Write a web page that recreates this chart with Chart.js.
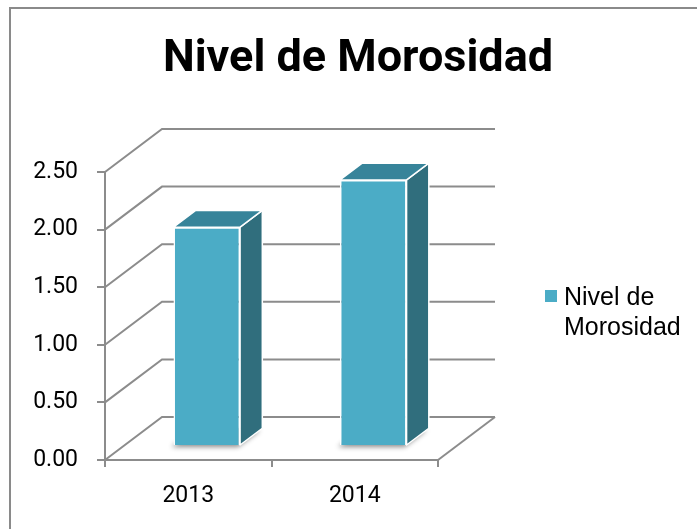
<!DOCTYPE html>
<html>
<head>
<meta charset="utf-8">
<script src="https://cdn.jsdelivr.net/npm/chart.js@4/dist/chart.umd.min.js"></script>
<style>
  html, body { margin: 0; padding: 0; background: #fff; }
  #wrap { width: 697px; height: 529px; }
</style>
</head>
<body>
<div id="wrap"><canvas id="graph_ID" width="697" height="529"></canvas></div>
<script>
// datos del grafico
var titulo = 'Nivel de Morosidad';
var anios = ['2013', '2014'];
var morosidad = [1.90, 2.31];
var leyenda = ['Nivel de', 'Morosidad'];
var yMin = 0, yMax = 2.5, yPaso = 0.5;

// colores de la barra 3D
var colFrente = '#4BACC6';
var colTecho = '#37849A';
var colLado = '#306E7D';
var colGrid = '#8c8c8c';

// profundidad del "cubo" (oblicuo)
var DX = 57, DY = -43;
var barDesde = 0.325, barFondo = 0.39;

var plugin3d = {
  id: 'tresD',
  beforeDatasetsDraw: function (chart) {
    var ctx = chart.ctx, a = chart.chartArea, ys = chart.scales.y;
    ctx.save();
    ctx.strokeStyle = colGrid;
    ctx.lineWidth = 2;
    ys.ticks.forEach(function (t) {
      var yf = ys.getPixelForValue(t.value);
      ctx.beginPath();
      ctx.moveTo(a.left, yf);
      ctx.lineTo(a.left + DX, yf + DY);
      ctx.lineTo(a.right + DX, yf + DY);
      ctx.stroke();
    });
    // borde derecho del piso
    ctx.beginPath();
    ctx.moveTo(a.right, a.bottom);
    ctx.lineTo(a.right + DX, a.bottom + DY);
    ctx.stroke();

    // sombra en la base de las barras
    var ox = DX * barDesde, oy = DY * barDesde;
    var dx = DX * barFondo, dy = DY * barFondo;
    chart.getDatasetMeta(0).data.forEach(function (b) {
      var x0 = b.x - b.width / 2 + ox, x1 = b.x + b.width / 2 + ox, yb = b.base + oy;
      ctx.save();
      ctx.shadowColor = 'rgba(0,0,0,0.45)';
      ctx.shadowBlur = 5;
      ctx.shadowOffsetX = -2;
      ctx.shadowOffsetY = 2;
      ctx.fillStyle = 'rgba(200,200,200,1)';
      ctx.beginPath();
      ctx.moveTo(x0, yb);
      ctx.lineTo(x1, yb);
      ctx.lineTo(x1 + dx, yb + dy);
      ctx.lineTo(x0 + dx, yb + dy);
      ctx.closePath();
      ctx.fill();
      ctx.restore();
    });
    ctx.restore();

    // las caras frontales se dibujan desplazadas hacia el fondo
    ctx.save();
    ctx.translate(ox, oy);
  },
  afterDatasetsDraw: function (chart) {
    var ctx = chart.ctx;
    ctx.restore();
    var ox = DX * barDesde, oy = DY * barDesde;
    var dx = DX * barFondo, dy = DY * barFondo;
    ctx.save();
    ctx.strokeStyle = '#ffffff';
    ctx.lineWidth = 1.5;
    ctx.lineJoin = 'round';
    chart.getDatasetMeta(0).data.forEach(function (b) {
      var x0 = b.x - b.width / 2 + ox, x1 = b.x + b.width / 2 + ox;
      var yt = b.y + oy, yb = b.base + oy;
      // lado
      ctx.fillStyle = colLado;
      ctx.beginPath();
      ctx.moveTo(x1, yt);
      ctx.lineTo(x1 + dx, yt + dy);
      ctx.lineTo(x1 + dx, yb + dy);
      ctx.lineTo(x1, yb);
      ctx.closePath();
      ctx.fill();
      ctx.stroke();
      // techo
      ctx.fillStyle = colTecho;
      ctx.beginPath();
      ctx.moveTo(x0, yt);
      ctx.lineTo(x0 + dx, yt + dy);
      ctx.lineTo(x1 + dx, yt + dy);
      ctx.lineTo(x1, yt);
      ctx.closePath();
      ctx.fill();
      ctx.stroke();
    });
    ctx.restore();
  },
  afterDraw: function (chart) {
    var ctx = chart.ctx;
    ctx.save();
    // leyenda
    ctx.fillStyle = chart.data.datasets[0].backgroundColor;
    ctx.fillRect(545, 290, 12, 12);
    ctx.fillStyle = '#000';
    ctx.font = '25px "Liberation Sans", Arial, sans-serif';
    ctx.textBaseline = 'alphabetic';
    ctx.textAlign = 'left';
    leyenda.forEach(function (l, i) {
      ctx.fillText(l, 564, 305 + i * 30);
    });
    // marco del grafico
    ctx.strokeStyle = '#8a8a8a';
    ctx.lineWidth = 2;
    ctx.strokeRect(10, 8, 720, 560);
    ctx.restore();
  }
};

var mychart = document.getElementById('graph_ID').getContext('2d');
var graphique = new Chart(mychart, {
  type: 'bar',
  data: {
    labels: anios,
    datasets: [{
      label: leyenda.join(' '),
      data: morosidad,
      backgroundColor: colFrente,
      borderColor: '#ffffff',
      borderWidth: 1.5,
      categoryPercentage: 1,
      barPercentage: 0.4
    }]
  },
  options: {
    responsive: false,
    animation: false,
    layout: { padding: { left: 20, right: 1, top: 10, bottom: 0 } },
    plugins: {
      legend: { display: false },
      tooltip: { enabled: false },
      title: {
        display: true,
        text: titulo,
        color: '#000',
        font: { family: 'Roboto, "Liberation Sans", Arial, sans-serif', size: 45, weight: 'bold', lineHeight: 1.2 },
        padding: { top: 22.5, bottom: 85.5 }
      }
    },
    scales: {
      x: {
        grid: { display: true, drawOnChartArea: false, offset: true, tickLength: 7, color: colGrid, lineWidth: 2 },
        border: { display: true, color: colGrid, width: 2 },
        ticks: { color: '#000', padding: 15, font: { family: 'Roboto, "Liberation Sans", Arial, sans-serif', size: 23 } },
        afterFit: function (s) { s.height = 69; }
      },
      y: {
        min: yMin,
        max: yMax,
        ticks: {
          stepSize: yPaso,
          color: '#000',
          padding: 19,
          font: { family: 'Roboto, "Liberation Sans", Arial, sans-serif', size: 23 },
          callback: function (v) { return Number(v).toFixed(2); }
        },
        grid: { display: true, drawOnChartArea: false, tickLength: 8, color: colGrid, lineWidth: 2 },
        border: { display: true, color: colGrid, width: 2 },
        afterFit: function (s) { s.width = 85; }
      },
      derecha: {
        type: 'linear',
        position: 'right',
        display: true,
        ticks: { display: false },
        grid: { display: false },
        border: { display: false },
        afterFit: function (s) { s.width = 258; }
      }
    }
  },
  plugins: [plugin3d]
});
</script>
</body>
</html>
